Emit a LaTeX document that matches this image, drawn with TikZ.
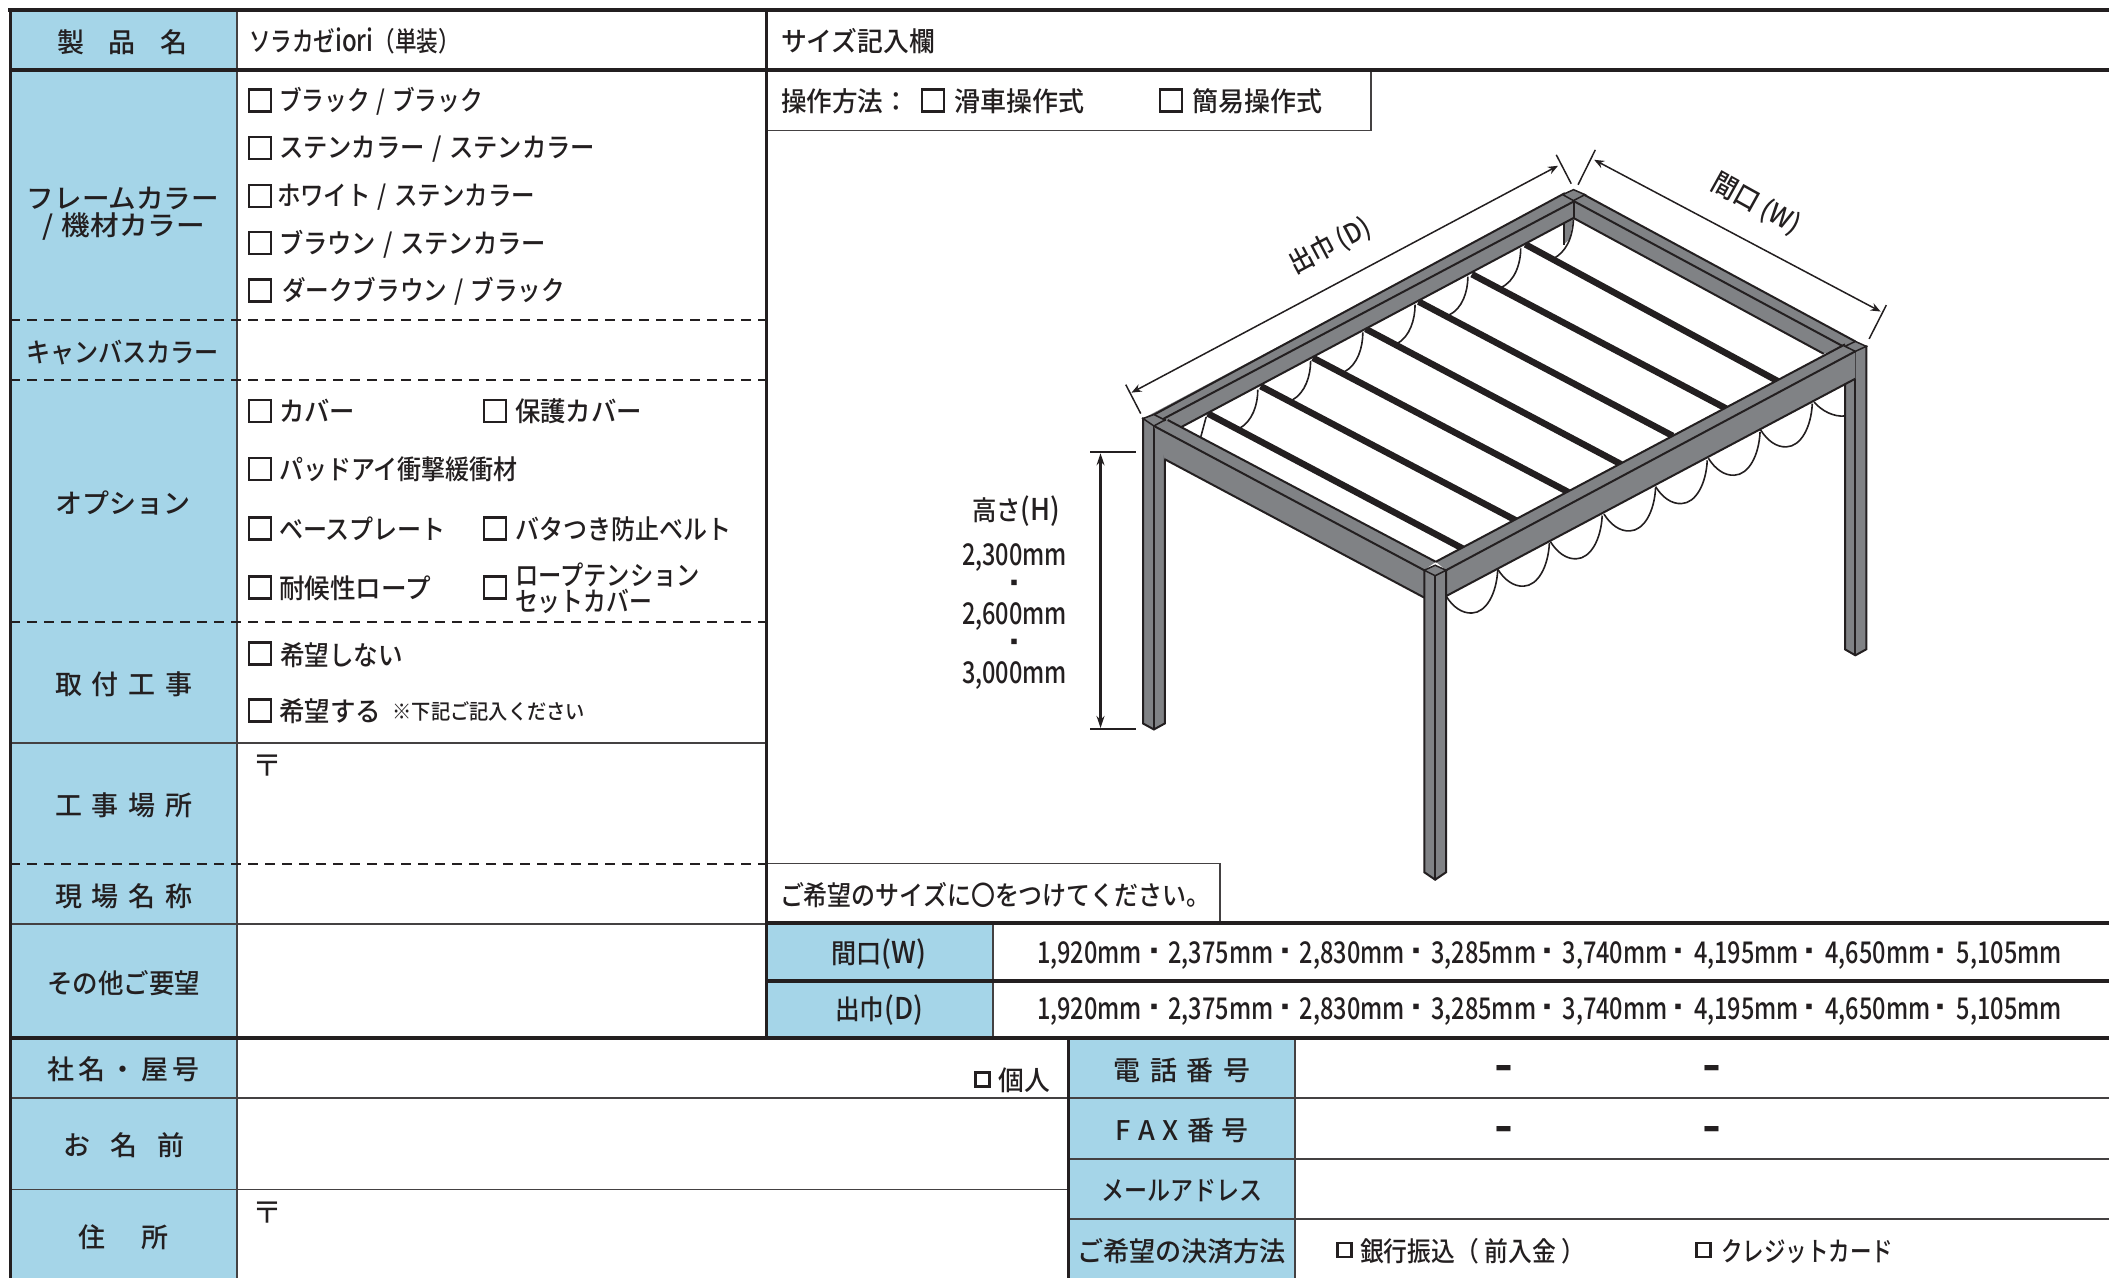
\documentclass[tikz,border=0pt]{standalone}
\usepackage{fontspec}
\usepackage{graphicx}
\usetikzlibrary{arrows.meta}
\setmainfont{Noto Sans CJK JP Medium}
\newfontfamily\thinjp{Noto Sans CJK JP}
\definecolor{formblue}{HTML}{A5D5E8}
\definecolor{ink}{HTML}{231F20}
\definecolor{steel}{HTML}{808285}
\tikzset{
  thickline/.style={ink,line width=4pt},
  midline/.style={ink,line width=3pt},
  thinline/.style={ink!85,line width=1.8pt},
  dashline/.style={ink,line width=1.8pt,dash pattern=on 10pt off 7pt},
  label/.style={inner sep=0pt,outer sep=0pt,anchor=west,text=ink,yshift=-1pt},
  checkbox/.style={draw=ink,line width=2.4pt,minimum width=22pt,minimum height=22pt,inner sep=0pt,outer sep=0pt},
  smallbox/.style={draw=ink,line width=2.4pt,minimum width=14pt,minimum height=14pt,inner sep=0pt,outer sep=0pt},
  beam/.style={fill=steel,draw=none},
  edge/.style={ink,line width=2pt},
  slat/.style={ink,line width=6.5pt},
  swag/.style={ink,line width=1.6pt},
  dim/.style={ink,line width=1.5pt},
  dotmark/.style={text=ink,inner sep=0pt},
}
\newcommand{\fs}{\fontsize{27}{27}\selectfont}
\newcommand{\numf}{\fontsize{30}{30}\selectfont}
\newcommand{\slsh}{\hspace{.3em}/\hspace{.3em}}
% name, left, right, y, text (squeezed to the width)
\newcommand{\tx}[5]{\pgfmathsetmacro\wdx{#3-#2}%
  \node[label] (#1) at (#2,#4) {\fs\vphantom{漢}\resizebox{\wdx pt}{\height}{#5}};}
% name, left, right, y, text with \hfill between the characters
\newcommand{\sx}[5]{\pgfmathsetmacro\wdx{#3-#2}%
  \node[label] (#1) at (#2,#4) {\fs\vphantom{漢}\makebox[\wdx pt][s]{#5}};}
\newcommand{\ck}[3]{\node[checkbox] (#1) at (#2,#3) {};}
\newcommand{\hy}{\resizebox{17pt}{22pt}{–}}
\begin{document}
\begin{tikzpicture}[x=1pt,y=-1pt]
\useasboundingbox (0,0) rectangle (2109,1278);
% blue cells
\fill[formblue] (10,10) rectangle (237,1278);
\fill[formblue] (766,923) rectangle (993,1037);
\fill[formblue] (1068,1037) rectangle (1295,1278);
% thin rules
\draw[thinline] (237,10) -- (237,1278);
\draw[thinline] (10,743) -- (766,743);
\draw[thinline] (10,924) -- (766,924);
\draw[thinline] (10,1098) -- (1068,1098);
\draw[thinline] (10,1189.5) -- (1068,1189.5);
\draw[thinline] (1068,1098) -- (2109,1098);
\draw[thinline] (1068,1159) -- (2109,1159);
\draw[thinline] (1068,1219) -- (2109,1219);
\draw[thinline] (1295,1037) -- (1295,1278);
\draw[thinline] (993,923) -- (993,1037);
\draw[thinline] (766,130.5) -- (1371,130.5) -- (1371,70);
\draw[thinline] (766,863.5) -- (1220,863.5) -- (1220,923);
% dashed rules
\foreach \yy in {320,380,622,864} \draw[dashline] (10,\yy) -- (766,\yy);
% heavy rules
\draw[thickline] (8,10) -- (2109,10);
\draw[thickline] (10,70) -- (2109,70);
\draw[thickline] (766,923) -- (2109,923);
\draw[thickline] (766,980.5) -- (2109,980.5);
\draw[thickline] (10,1037.5) -- (2109,1037.5);
\draw[midline] (10,10) -- (10,1278);
\draw[midline] (766,10) -- (766,1037);
\draw[midline] (1068,1037) -- (1068,1278);
% left labels
\sx{a1}{57}{188}{41}{製\hfill 品\hfill 名}
\tx{a2}{27}{219}{197}{フレームカラー}
\tx{a3}{42}{205}{226}{/\hspace{.3em}機材カラー}
\tx{a4}{26}{219}{351}{キャンバスカラー}
\sx{a5}{55}{191}{502}{オ\hfill プ\hfill シ\hfill ョ\hfill ン}
\sx{a6}{55}{193}{683}{取\hfill 付\hfill 工\hfill 事}
\sx{a7}{55}{193}{804}{工\hfill 事\hfill 場\hfill 所}
\sx{a8}{55}{193}{895}{現\hfill 場\hfill 名\hfill 称}
\tx{a9}{47}{200}{982}{その他ご要望}
\sx{a10}{47}{200}{1068}{社\hfill 名\hfill ・\hfill 屋\hfill 号}
\sx{a11}{63}{185}{1144}{お\hfill 名\hfill 前}
\sx{a12}{78}{169}{1236}{住\hfill 所}
% product column
\tx{b0}{249}{460}{40}{ソラカゼ{\numf iori}（単装）}
\ck{c1}{260}{100.5}\tx{b1}{279}{483}{100.5}{ブラック\slsh ブラック}
\ck{c2}{260}{148}\tx{b2}{279}{595}{148}{ステンカラー\slsh ステンカラー}
\ck{c3}{260}{196}\tx{b3}{277}{535}{196}{ホワイト\slsh ステンカラー}
\ck{c4}{260}{243}\tx{b4}{279}{546}{243}{ブラウン\slsh ステンカラー}
\ck{c5}{260}{290.5}\tx{b5}{282}{565}{290.5}{ダークブラウン\slsh ブラック}
\ck{c6}{260}{411}\tx{b6}{279}{355}{410}{カバー}
\ck{c7}{495}{411}\tx{b7}{515}{642}{410}{保護カバー}
\ck{c8}{260}{469}\tx{b8}{279}{518}{468}{パッドアイ衝撃緩衝材}
\ck{c9}{260}{528.5}\tx{b9}{279}{446}{528}{ベースプレート}
\ck{c10}{495}{528.5}\tx{b10}{515}{731}{528}{バタつき防止ベルト}
\ck{c11}{260}{587.5}\tx{b11}{279}{431}{587}{耐候性ロープ}
\ck{c12}{495}{587.5}\tx{b12}{515}{700}{574.5}{ロープテンション}
\tx{b13}{515}{652}{600.5}{セットカバー}
\ck{c13}{260}{653.5}\tx{b14}{280}{403}{654}{希望しない}
\ck{c14}{260}{710.5}\tx{b15}{279}{381}{710}{希望する}
\node[label] (b16) at (392.5,710) {\fontsize{21}{21}\selectfont\resizebox{192.5pt}{\height}{※下記ご記入ください}};
\node[label] (z1) at (252,765) {\thinjp\fontsize{30}{30}\selectfont 〒};
\node[label] (z2) at (252,1212) {\thinjp\fontsize{30}{30}\selectfont 〒};
\tx{b17}{780}{1210}{894}{ご希望のサイズに〇をつけてください。}
% top right
\tx{d1}{781}{935}{40}{サイズ記入欄}
\tx{d2}{781}{909}{100.5}{操作方法：}
\ck{c15}{933}{100.5}\tx{d3}{954}{1084}{100.5}{滑車操作式}
\ck{c16}{1171}{100.5}\tx{d4}{1192}{1322}{100.5}{簡易操作式}
% size table
\tx{e1}{831}{926}{953.5}{間口{\numf (W)}}
\tx{e2}{835}{923}{1009}{出巾{\numf (D)}}
\foreach \i/\v in {0/{1,920},1/{2,375},2/{2,830},3/{3,285},4/{3,740},5/{4,195},6/{4,650},7/{5,105}}{
  \pgfmathsetmacro\xa{1037+131.4*\i}
  \pgfmathsetmacro\xb{\xa+105}
  \tx{wn\i}{\xa}{\xb}{954}{\numf\v mm}
  \tx{dn\i}{\xa}{\xb}{1010}{\numf\v mm}
}
\foreach \i in {0,...,6}{
  \pgfmathsetmacro\xa{1154.3+131.1*\i}
  \node[dotmark] (ws\i) at (\xa,953) {\fontsize{20}{20}\selectfont ▪};
  \node[dotmark] (ds\i) at (\xa,1009) {\fontsize{20}{20}\selectfont ▪};
}
% height labels
\tx{h1}{972}{1060}{510}{高さ{\numf (H)}}
\tx{h2}{962}{1067}{556}{\numf 2,300mm}
\node[dotmark] (h3) at (1014,585) {\fontsize{20}{20}\selectfont ▪};
\tx{h4}{962}{1067}{615.5}{\numf 2,600mm}
\node[dotmark] (h5) at (1014,644) {\fontsize{20}{20}\selectfont ▪};
\tx{h6}{962}{1067}{674}{\numf 3,000mm}
% lower right
\node[smallbox] (c17) at (982.5,1079.5) {};
\tx{f1}{998.5}{1050}{1079}{個人}
\sx{f2}{1113.5}{1250.5}{1069}{電\hfill 話\hfill 番\hfill 号}
\sx{f3}{1115}{1249}{1129}{F\hfill A\hfill X\hfill 番\hfill 号}
\tx{f4}{1101}{1262}{1189}{メールアドレス}
\tx{f5}{1077}{1286}{1250.5}{ご希望の決済方法}
\node[dotmark] (g1) at (1503.5,1076.5) {\hy};
\node[dotmark] (g2) at (1711.5,1076.5) {\hy};
\node[dotmark] (g3) at (1503.5,1137.5) {\hy};
\node[dotmark] (g4) at (1711.5,1137.5) {\hy};
\node[smallbox] (c18) at (1344.5,1250) {};
\tx{f6}{1360}{1585}{1250}{銀行振込（ 前入金 ）}
\node[smallbox] (c19) at (1703.5,1250) {};
\tx{f7}{1721}{1893}{1250}{クレジットカード}
% dimension labels
\node[dotmark,rotate=28] (l1) at (1330,246) {\fontsize{27}{27}\selectfont\resizebox{88pt}{\height}{出巾 (D)}};
\node[dotmark,rotate=-29] (l2) at (1756,204) {\fontsize{27}{27}\selectfont\resizebox{96pt}{\height}{間口 (W)}};
% frame
\begin{scope}[shift={(1050,120)},x=0.574pt,y=-0.4975pt]
  % swags behind the back beam
  \foreach \a/\b/\c/\d/\e/\f in {
    820/258/815/305/785/337,
    728/315/723/360/695/392,
    636/371/632/416/604/450,
    545/427/541/472/513/506,
    454/484/450/528/422/563,
    362/542/358/585/330/620}
    \draw[swag] (\a,\b) .. controls (\a,\b+30) and (\c-5,\d+20) .. (\e,\f);
  \draw[swag] (272,597) -- (262,640);
  \fill[steel] (912,197) -- (895,208) -- (895,250) -- (905,240) -- cycle;
  \draw[swag] (912,200) .. controls (910,240) and (898,265) .. (878,278);
  \draw[swag] (895,208) -- (895,252);
  % slats
  \foreach \a/\b/\c/\d in {
    828/250/1268/525, 735/310/1178/580, 642/365/1085/635, 550/420/995/692,
    458/478/903/748, 367/535/812/805, 275/590/720/862}
    \draw[slat] (\a,\b) -- (\c,\d);
  % front swags
  \foreach \a/\b in {690/957, 780/903, 872/848, 965/792, 1055/737, 1147/680, 1238/623}
    \draw[swag] (\a,\b) .. controls (\a+12,\b+22) and (\a+28,\b+35) .. (\a+45,\b+34)
       .. controls (\a+70,\b+33) and (\a+88,\b-5) .. (\a+90,\b-53);
  \draw[swag] (1331,567) .. controls (1345,585) and (1365,597) .. (1385,595);
  % back beams
  \fill[beam] (162,600) -- (912,140) -- (912,197) -- (229,617) -- cycle;
  \fill[beam] (912,140) -- (1403,445) -- (1385,457) -- (1348,470) -- (912,197) -- cycle;
  \draw[edge] (180,593) -- (897,147);
  \draw[edge] (197,601) -- (912,164);
  \draw[edge] (229,617) -- (912,197);
  \draw[edge] (930,150) -- (1403,445);
  \draw[edge] (914,164) -- (1385,457);
  \draw[edge] (912,197) -- (1348,470);
  \draw[edge] (912,162) -- (912,197);
  % back cap
  \filldraw[fill=steel,draw=ink,line width=1.5pt] (893,150) -- (912,140) -- (932,150) -- (912,162) -- cycle;
  % left post
  \filldraw[fill=steel,draw=ink,line width=2pt] (162,600) -- (162,1213) -- (181,1225) -- (200,1213) -- (200,603) -- cycle;
  \draw[edge] (181,615) -- (181,1225);
  % right post
  \filldraw[fill=steel,draw=ink,line width=2pt] (1385,455) -- (1385,1064) -- (1403,1076) -- (1422,1064) -- (1422,455) -- cycle;
  \draw[edge] (1403,465) -- (1403,1076);
  % left-front beam
  \fill[beam] (205,603) -- (672,888) -- (652,905) -- (652,960) -- (200,682) -- (181,615) -- cycle;
  \draw[edge] (205,603) -- (672,888);
  \draw[edge] (181,615) -- (652,905);
  \draw[edge] (200,682) -- (652,960);
  \filldraw[fill=steel,draw=ink,line width=1.5pt] (162,600) -- (181,592) -- (200,603) -- (181,615) -- cycle;
  % front beam
  \fill[beam] (672,888) -- (1385,451) -- (1403,465) -- (1403,520) -- (690,957) -- (690,905) -- cycle;
  \draw[edge] (672,888) -- (1385,451);
  \draw[edge] (690,905) -- (1403,465);
  \draw[edge] (690,957) -- (1403,520);
  \filldraw[fill=steel,draw=ink,line width=1.5pt] (1385,455) -- (1403,445) -- (1422,455) -- (1403,465) -- cycle;
  % front post
  \filldraw[fill=steel,draw=ink,line width=2pt] (652,905) -- (652,1512) -- (671,1527) -- (690,1512) -- (690,905) -- cycle;
  \draw[edge] (671,916) -- (671,1527);
  \filldraw[fill=steel,draw=ink,line width=1.5pt] (652,905) -- (671,895) -- (690,905) -- (671,916) -- cycle;
  % dimensions
  \coordinate (da) at (142,548); \coordinate (db) at (885,92);
  \coordinate (wa) at (948,80); \coordinate (wb) at (1447,385);
  \coordinate (ha) at (88,670); \coordinate (hb) at (88,1222);
  \coordinate (t1a) at (132,532); \coordinate (t1b) at (158,590);
  \coordinate (t2a) at (882,70); \coordinate (t2b) at (908,128);
  \coordinate (t3a) at (950,60); \coordinate (t3b) at (920,130);
  \coordinate (t4a) at (1457,372); \coordinate (t4b) at (1427,440);
  \coordinate (t5a) at (70,667); \coordinate (t5b) at (150,667);
  \coordinate (t6a) at (70,1224); \coordinate (t6b) at (150,1224);
  \draw[dim,{Stealth[length=10pt,width=8pt]}-{Stealth[length=10pt,width=8pt]}] (da) -- (db);
  \draw[dim,{Stealth[length=10pt,width=8pt]}-{Stealth[length=10pt,width=8pt]}] (wa) -- (wb);
  \draw[ink,line width=2.2pt,{Stealth[length=12pt,width=8pt]}-{Stealth[length=12pt,width=8pt]}] (ha) -- (hb);
  \draw[dim] (t1a) -- (t1b); \draw[dim] (t2a) -- (t2b);
  \draw[dim] (t3a) -- (t3b); \draw[dim] (t4a) -- (t4b);
  \draw[ink,line width=2pt] (t5a) -- (t5b); \draw[ink,line width=2pt] (t6a) -- (t6b);
\end{scope}
\end{tikzpicture}
\end{document}
